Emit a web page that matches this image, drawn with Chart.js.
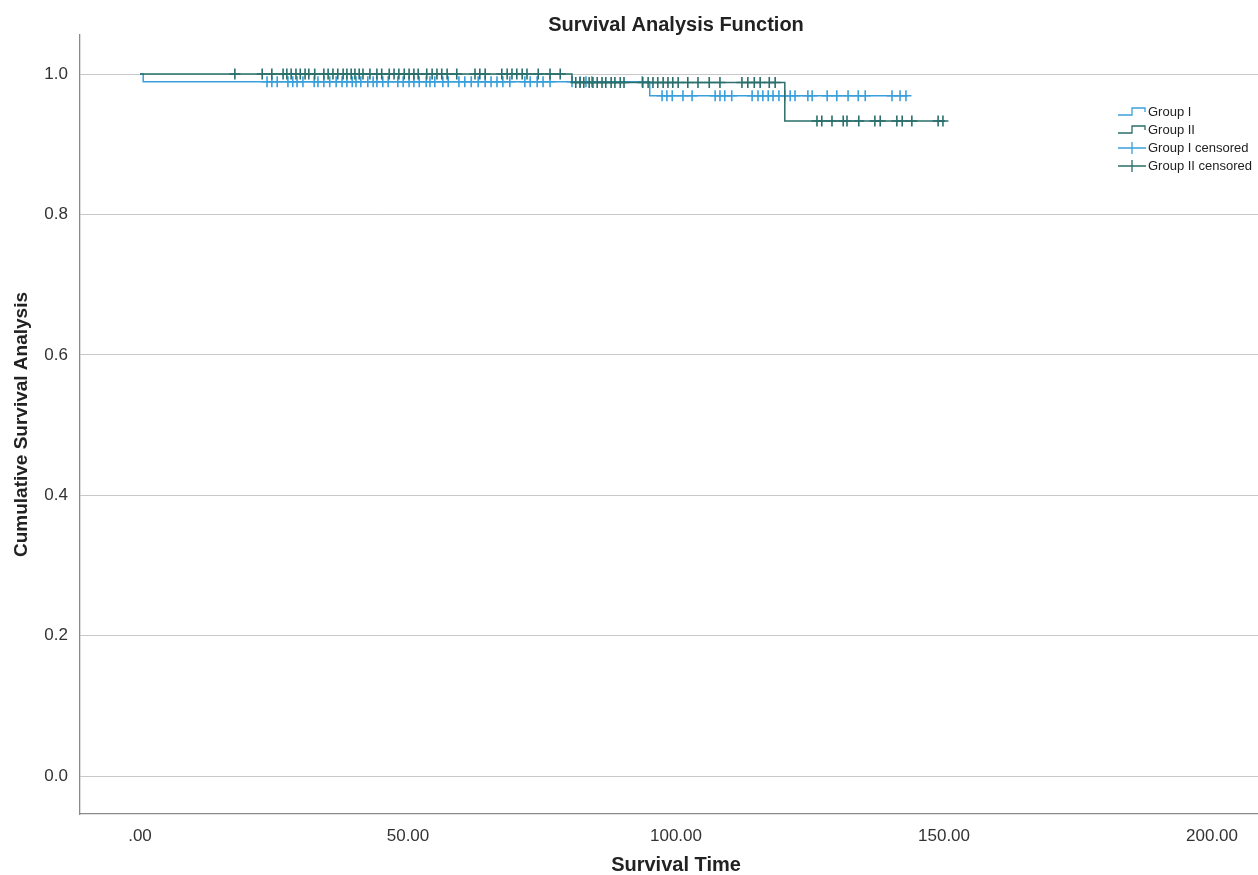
<!DOCTYPE html>
<html>
<head>
<meta charset="utf-8">
<script src="https://cdn.jsdelivr.net/npm/chart.js@4/dist/chart.umd.min.js"></script>
<style>
  html, body { margin: 0; padding: 0; overflow: hidden; background: #fff; }
  #wrap { width: 1272px; height: 875px; position: relative; }
</style>
</head>
<body>
<div id="wrap"><canvas id="km" width="1272" height="875"></canvas></div>
<script>
// Kaplan-Meier steps (time where the step lands, survival after it)
const groupITimes = [0, 0.6, 95.1, 143.3];
const groupISurv = [1.0, 0.989, 0.969, 0.969];
const groupIITimes = [0, 80.6, 120.3, 150.2];
const groupIISurv = [1.0, 0.988, 0.933, 0.933];

// censored cases (times)
const groupICensored = [
  23.7, 24.6, 25.6, 27.6, 28.5, 29.3, 30.4, 32.5, 33.2, 34.3, 35.4, 36.6, 37.7, 38.6,
  39.6, 40.3, 41.2, 42.5, 43.5, 44.2, 45.3, 46.3, 48.1, 49.1, 50.2, 51.1, 52.1, 53.4,
  54.1, 55.0, 56.5, 57.5, 59.5, 60.6, 61.8, 63.1, 64.4, 65.5, 66.6, 67.7, 69.0, 71.8,
  72.8, 74.1, 75.2, 76.5, 80.6, 82.1, 83.2, 84.3, 93.7,
  97.4, 98.3, 99.3, 101.3, 103.0, 107.3, 108.2, 109.1, 110.4, 114.2, 115.3, 116.2,
  117.2, 118.1, 119.2, 120.3, 121.3, 122.2, 124.6, 125.4, 128.2, 130.0, 132.1, 134.0,
  135.3, 140.3, 141.8, 142.9
];
const groupIICensored = [
  17.7, 22.8, 24.6, 26.7, 27.4, 28.2, 29.1, 29.9, 30.8, 31.5, 32.6, 34.3, 35.1, 36.0,
  36.9, 37.9, 38.6, 39.4, 40.1, 40.9, 41.6, 42.9, 44.2, 45.1, 46.5, 47.4, 48.3, 49.3,
  50.2, 51.1, 51.9, 53.5, 54.5, 55.4, 56.3, 57.3, 59.1, 62.5, 63.4, 64.4, 67.5, 68.5,
  69.4, 70.3, 71.3, 72.2, 74.3, 76.5, 78.4,
  81.3, 82.1, 82.8, 83.8, 84.5, 85.3, 86.2, 86.9, 87.9, 88.6, 89.6, 90.3, 93.8, 94.8,
  95.7, 96.6, 97.6, 98.5, 99.4, 100.4, 102.2, 104.1, 106.2, 108.2, 112.3, 113.4, 114.6,
  115.7, 117.4, 118.5,
  126.3, 127.2, 129.1, 131.2, 131.9, 134.1, 137.1, 138.1, 141.2, 142.2, 144.0, 148.9, 149.8
];

const xTicks = [0, 50, 100, 150, 200];
const yTicks = [0, 0.2, 0.4, 0.6, 0.8, 1.0];
const legendLabels = ["Group I", "Group II", "Group I censored", "Group II censored"];

const colorI = "#3aa0dc";
const colorII = "#2a6f6b";

// survival level of a curve at time t (step function lookup)
function survAt(times, surv, t) {
  let s = surv[0];
  for (let i = 0; i < times.length; i++) {
    if (times[i] <= t) s = surv[i];
  }
  return s;
}

const curve = (times, surv) => times.map((t, i) => ({ x: t, y: surv[i] }));
const marks = (cens, times, surv) => cens.map((t) => ({ x: t, y: survAt(times, surv, t) }));

const legendPlugin = {
  id: "spssLegend",
  afterDraw(chart) {
    const ctx = chart.ctx;
    const x0 = 1118, x1 = 1146, rowY = [112, 130, 148, 166];
    const cols = [colorI, colorII, colorI, colorII];
    ctx.save();
    ctx.lineWidth = 1.3;
    legendLabels.forEach((lab, i) => {
      const y = rowY[i];
      ctx.strokeStyle = cols[i];
      ctx.beginPath();
      if (i < 2) {
        ctx.moveTo(x0, y + 3);
        ctx.lineTo(x0 + 14, y + 3);
        ctx.lineTo(x0 + 14, y - 4);
        ctx.lineTo(x1 - 1, y - 4);
        ctx.lineTo(x1 - 1, y);
      } else {
        ctx.moveTo(x0, y);
        ctx.lineTo(x1, y);
        ctx.moveTo(x0 + 14, y - 6);
        ctx.lineTo(x0 + 14, y + 6);
      }
      ctx.stroke();
      ctx.fillStyle = "#222";
      ctx.font = "13px 'Liberation Sans', Arial, sans-serif";
      ctx.textBaseline = "middle";
      ctx.fillText(lab, x1 + 2, y);
    });
    ctx.restore();
  },
};

new Chart(document.getElementById("km"), {
  type: "scatter",
  data: {
    datasets: [
      {
        label: "Group II",
        data: curve(groupIITimes, groupIISurv),
        showLine: true,
        stepped: true,
        borderColor: colorII,
        borderWidth: 1.5,
        pointRadius: 0,
      },
      {
        label: "Group II censored",
        data: marks(groupIICensored, groupIITimes, groupIISurv),
        pointStyle: "cross",
        pointRadius: 5.5,
        borderColor: colorII,
        borderWidth: 1.6,
      },
      {
        label: "Group I censored",
        data: marks(groupICensored, groupITimes, groupISurv),
        pointStyle: "cross",
        pointRadius: 5.5,
        borderColor: colorI,
        borderWidth: 1.6,
      },
      {
        label: "Group I",
        data: curve(groupITimes, groupISurv),
        showLine: true,
        stepped: true,
        borderColor: colorI,
        borderWidth: 1.5,
        pointRadius: 0,
      },
    ],
  },
  options: {
    responsive: false,
    animation: false,
    devicePixelRatio: 1,
    layout: { padding: 0, autoPadding: false },
    plugins: {
      legend: { display: false },
      tooltip: { enabled: false },
      title: {
        display: true,
        text: "Survival Analysis Function",
        fullSize: false,
        color: "#222",
        font: { family: "'Liberation Sans', Arial, sans-serif", size: 20, weight: "bold", lineHeight: 1 },
        padding: { top: 15, bottom: 0 },
      },
    },
    scales: {
      x: {
        type: "linear",
        min: -11.19,
        max: 211.19,
        afterBuildTicks: (axis) => { axis.ticks = xTicks.map((v) => ({ value: v })); },
        afterFit: (axis) => {
          axis.height = 61;
          axis.paddingLeft = 0;
          axis.paddingRight = 0;
        },
        grid: { display: false, drawTicks: false },
        border: { display: true, color: "#8a8a8a", width: 1.3 },
        ticks: {
          padding: 12,
          maxRotation: 0,
          color: "#333",
          font: { family: "'Liberation Sans', Arial, sans-serif", size: 17 },
          callback: (v) => (v === 0 ? ".00" : v.toFixed(2)),
        },
        title: {
          display: true,
          text: "Survival Time",
          color: "#222",
          font: { family: "'Liberation Sans', Arial, sans-serif", size: 20, weight: "bold", lineHeight: 1 },
          padding: { top: 0, bottom: 0 },
        },
      },
      y: {
        type: "linear",
        min: -0.0541,
        max: 1.0556,
        afterBuildTicks: (axis) => { axis.ticks = yTicks.map((v) => ({ value: v })); },
        afterFit: (axis) => {
          axis.width = 80;
          axis.paddingTop = 0;
          axis.paddingBottom = 0;
        },
        grid: { color: "#c8c8c8", lineWidth: 1, drawTicks: false },
        border: { display: true, color: "#8a8a8a", width: 1.3 },
        ticks: {
          padding: 12,
          color: "#333",
          font: { family: "'Liberation Sans', Arial, sans-serif", size: 17 },
          callback: (v) => v.toFixed(1),
        },
        title: {
          display: true,
          text: "Cumulative Survival Analysis",
          color: "#222",
          font: { family: "'Liberation Sans', Arial, sans-serif", size: 19, weight: "bold", lineHeight: 1 },
          padding: { top: 12, bottom: 0 },
        },
      },
    },
  },
  plugins: [legendPlugin],
});
</script>
</body>
</html>
